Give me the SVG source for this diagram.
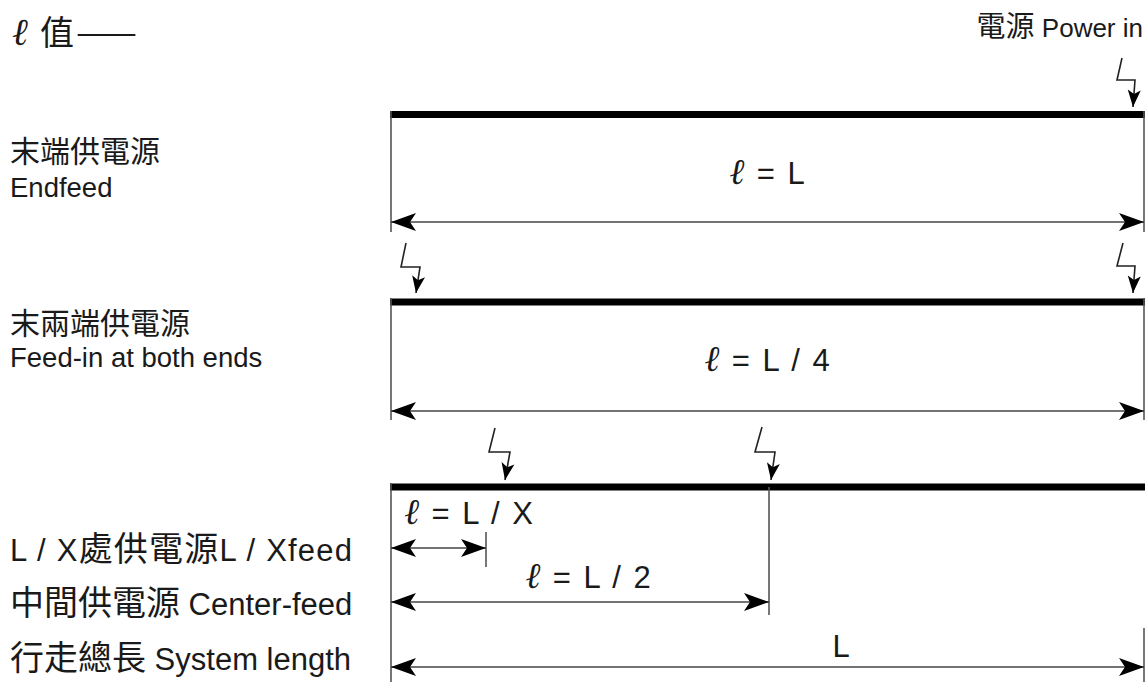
<svg xmlns="http://www.w3.org/2000/svg" width="1147" height="682" viewBox="0 0 1147 682">
<style>
.cjk{font-family:"Noto Sans CJK TC","Noto Sans CJK SC",sans-serif;fill:#1a1a1a}
.lat{font-family:"Liberation Sans",Arial,sans-serif;fill:#1a1a1a}
.ell{font-family:"DejaVu Serif","Liberation Serif",serif;font-style:italic}
.lbl{font-family:"Liberation Sans",Arial,sans-serif;fill:#1a1a1a;font-size:31px;word-spacing:4px}
.lbl .ell{font-size:36px}
.bar{stroke:#000;stroke-width:7;fill:none}
.ext{stroke:#555;stroke-width:1.6;fill:none}
.dim{stroke:#444;stroke-width:1.3;fill:none;marker-start:url(#ah);marker-end:url(#ah)}
.bolt{stroke:#222;stroke-width:1.6;fill:none;marker-end:url(#bh)}
</style>
<defs>
<marker id="ah" markerUnits="userSpaceOnUse" markerWidth="28" markerHeight="20" viewBox="-26 -10 28 20" refX="0" refY="0" orient="auto-start-reverse">
<path d="M0,0 L-25,-9 L-19,0 L-25,9 Z" fill="#000"/>
</marker>
<marker id="bh" markerUnits="userSpaceOnUse" markerWidth="20" markerHeight="14" viewBox="-18 -7 20 14" refX="0" refY="0" orient="auto">
<path d="M0,0 L-17,-6.5 L-13,0 L-17,6.5 Z" fill="#000"/>
</marker>
</defs>

<g id="title">
<text x="12" y="45" class="ell" font-size="38" fill="#1a1a1a">ℓ</text>
<text x="40" y="45" class="cjk" font-size="34">值</text>
<text x="76" y="45" class="cjk" font-size="34" textLength="61" lengthAdjust="spacingAndGlyphs">——</text>
</g>
<g id="power-in-label">
<text x="1143" y="37" text-anchor="end"><tspan class="cjk" font-size="29">電源</tspan><tspan class="lat" font-size="26"> Power in</tspan></text>
</g>

<g id="labels-left">
<text x="10" y="162" class="cjk" font-size="30">末端供電源</text>
<text x="10" y="197" class="lat" font-size="27.5">Endfeed</text>
<text x="10" y="334" class="cjk" font-size="30">末兩端供電源</text>
<text x="10" y="367" class="lat" font-size="27.5">Feed-in at both ends</text>
<text x="10" y="561" textLength="342" lengthAdjust="spacing"><tspan class="lat" font-size="31">L / X</tspan><tspan class="cjk" font-size="34">處供電源</tspan><tspan class="lat" font-size="31">L / Xfeed</tspan></text>
<text x="10" y="615"><tspan class="cjk" font-size="34">中間供電源</tspan><tspan class="lat" font-size="31"> Center-feed</tspan></text>
<text x="10" y="670"><tspan class="cjk" font-size="34">行走總長</tspan><tspan class="lat" font-size="31"> System length</tspan></text>
</g>

<g id="endfeed">
<line class="bar" x1="390" y1="114.5" x2="1145" y2="114.5"/>
<text x="767" y="184" text-anchor="middle" class="lbl"><tspan class="ell">ℓ</tspan> = L</text>
</g>
<g id="both-ends">
<line class="bar" x1="390" y1="302" x2="1145" y2="302"/>
<text x="767" y="371" text-anchor="middle" class="lbl"><tspan class="ell">ℓ</tspan> = L / 4</text>
</g>
<g id="lx-center">
<line class="bar" x1="390" y1="487" x2="1145" y2="487"/>
<text x="404" y="524" class="lbl"><tspan class="ell">ℓ</tspan> = L / X</text>
<text x="588" y="588" text-anchor="middle" class="lbl"><tspan class="ell">ℓ</tspan> = L / 2</text>
<text x="841" y="657" text-anchor="middle" class="lbl">L</text>
</g>

<g id="connectors">
<line class="ext" x1="391" y1="111" x2="391" y2="232"/>
<line class="ext" x1="1144" y1="111" x2="1144" y2="232"/>
<line class="dim" x1="391" y1="222" x2="1144" y2="222"/>
<line class="ext" x1="391" y1="298" x2="391" y2="420"/>
<line class="ext" x1="1144" y1="298" x2="1144" y2="420"/>
<line class="dim" x1="391" y1="411" x2="1144" y2="411"/>
<line class="ext" x1="391" y1="483" x2="391" y2="682"/>
<line class="ext" x1="486" y1="532" x2="486" y2="567"/>
<line class="ext" x1="769" y1="487" x2="769" y2="615"/>
<line class="ext" x1="1144" y1="628" x2="1144" y2="682"/>
<line class="dim" x1="391" y1="548" x2="486" y2="548"/>
<line class="dim" x1="391" y1="602" x2="769" y2="602"/>
<line class="dim" x1="391" y1="667" x2="1144" y2="667"/>
<polyline class="bolt" points="1122,58 1117,80 1135,80 1133,107"/>
<polyline class="bolt" points="406,243 401,267 420,267 416,293"/>
<polyline class="bolt" points="1123,243 1117,266 1135,266 1133,293"/>
<polyline class="bolt" points="495,428 489,452 510,452 505,480"/>
<polyline class="bolt" points="762,427 755,452 775,452 771,480"/>
</g>
</svg>
